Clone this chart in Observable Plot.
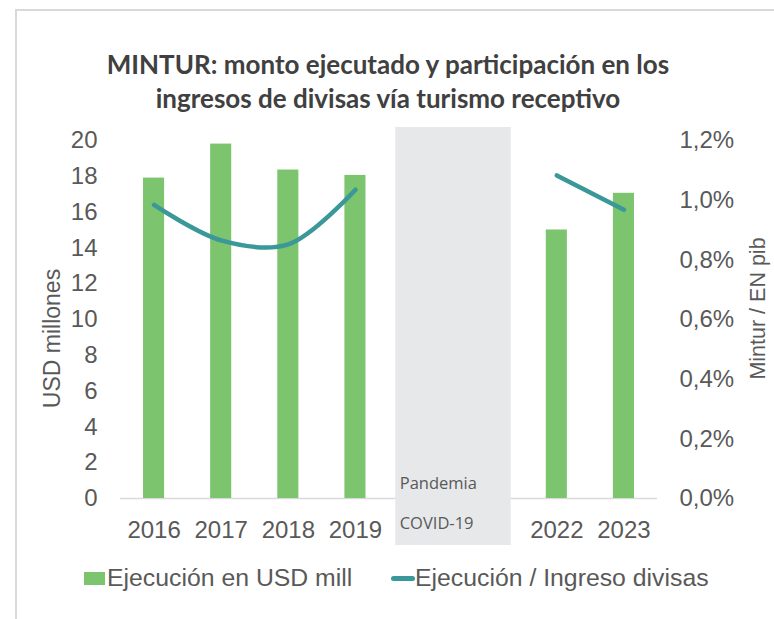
<!DOCTYPE html>
<html>
<head>
<meta charset="utf-8">
<script src="https://cdn.jsdelivr.net/npm/d3@7"></script>
<script src="https://cdn.jsdelivr.net/npm/@observablehq/plot@0.6"></script>
<style>
  html, body { margin: 0; padding: 0; background: #fff; }
  #wrap { position: relative; width: 774px; height: 619px; overflow: hidden; background: #fff; }
  #frame { position: absolute; left: 15px; top: 9px; right: -4px; bottom: -4px;
           border-top: 2px solid #D9D9D9; border-left: 2px solid #D9D9D9; }
  #title { position: absolute; left: 0; top: 47px; width: 776px; text-align: center;
           font-family: Lato, "Open Sans", sans-serif; font-weight: 700; font-size: 26px;
           line-height: 34px; color: #404040; }
  #chart { position: absolute; left: 0; top: 120px; }
  #chart svg { font-family: "Liberation Sans", Arial, sans-serif; }
  #legend { position: absolute; top: 563px; left: 0; width: 774px; height: 30px;
            font-family: "Liberation Sans", Arial, sans-serif; font-size: 24.8px; color: #595959; }
  .item { position: absolute; top: 0; line-height: 30px; white-space: nowrap; }
  .sw { position: absolute; }
</style>
</head>
<body>
<div id="wrap">
  <div id="frame"></div>
  <div id="title">MINTUR: monto ejecutado y participación en los<br>ingresos de divisas vía turismo receptivo</div>
  <div id="chart"></div>
  <div id="legend"></div>
</div>
<script>
// ---- data ----
const years = [2016, 2017, 2018, 2019, 2020, 2021, 2022, 2023];
const spendUSD = [17.9, 19.8, 18.35, 18.05, null, null, 15.0, 17.05];      // USD millones
const sharePct = [0.984, 0.865, 0.852, 1.035, null, null, 1.083, 0.968];   // % (Mintur / EN pib)
const xTickYears = [2016, 2017, 2018, 2019, 2022, 2023];
const leftTicks = [0, 2, 4, 6, 8, 10, 12, 14, 16, 18, 20];
const rightTicks = [0, 0.2, 0.4, 0.6, 0.8, 1.0, 1.2];
const pandemicSpan = [2019.6, 2021.32];
const pandemicLines = ["Pandemia", "COVID-19"];
const seriesNames = ["Ejecución en USD mill", "Ejecución / Ingreso divisas"];
const axisTitles = ["USD millones", "Mintur / EN pib"];

const green = "#7DC46E";
const teal = "#3A9898";
const k = 20 / 1.2; // right-axis % -> left-axis units
const FONT = "Liberation Sans, Arial, sans-serif";

const table = years.map((year, i) => ({year, usd: spendUSD[i], pct: sharePct[i]}));
const barRows = table.filter(d => d.usd != null);
const barHalf = 0.157;
const fmtPct = v => (v / k).toFixed(1).replace(".", ",") + "%";
const pStart = [{x: pandemicSpan[0]}];

const chart = Plot.plot({
  width: 774,
  height: 430,
  marginTop: 20,
  marginBottom: 52,
  marginLeft: 120,
  marginRight: 117,
  x: {domain: [2015.5, 2023.5]},
  y: {domain: [0, 20]},
  style: {background: "transparent", overflow: "visible", color: "#595959"},
  marks: [
    Plot.ruleY([0], {stroke: "#D9D9D9", strokeWidth: 1.5}),
    Plot.rectY(barRows, {x1: d => d.year - barHalf, x2: d => d.year + barHalf, y: "usd", fill: green}),
    Plot.rect([{start: pandemicSpan[0], end: pandemicSpan[1]}], {x1: "start", x2: "end", fill: "#E7E8EA", insetTop: -13, insetBottom: -47}),
    Plot.line(table, {x: "year", y: d => d.pct == null ? NaN : d.pct * k, curve: "catmull-rom", stroke: teal, strokeWidth: 4.5, strokeLinecap: "round", strokeLinejoin: "round"}),
    Plot.text(pStart, {x: "x", frameAnchor: "bottom", text: () => pandemicLines[0], dx: 4, dy: -10, textAnchor: "start", fontFamily: "Open Sans, sans-serif", fontSize: 16.5, fill: "#595959"}),
    Plot.text(pStart, {x: "x", frameAnchor: "bottom", text: () => pandemicLines[1], dx: 4, dy: 30, textAnchor: "start", fontFamily: "Open Sans, sans-serif", fontSize: 16.5, fill: "#595959"}),
    Plot.axisX({ticks: xTickYears, tickSize: 0, tickPadding: 22, tickFormat: d => String(d), label: null, fontSize: 24, fontFamily: FONT, fill: "#595959"}),
    Plot.axisY({ticks: leftTicks, tickSize: 0, tickPadding: 23, label: null, fontSize: 24, fontFamily: FONT, fill: "#595959"}),
    Plot.axisY({anchor: "right", ticks: rightTicks.map(p => p * k), tickFormat: fmtPct, tickSize: 0, tickPadding: 22, label: null, fontSize: 24, fontFamily: FONT, fill: "#595959"}),
    Plot.text([axisTitles[0]], {frameAnchor: "left", textAnchor: "middle", text: d => d, rotate: -90, dx: -68, dy: 19, fill: "#595959", fontSize: 23, fontFamily: FONT}),
    Plot.text([axisTitles[1]], {frameAnchor: "right", textAnchor: "middle", text: d => d, rotate: -90, dx: 101, dy: -11, fill: "#595959", fontSize: 21.5, fontFamily: FONT})
  ]
});
document.getElementById("chart").appendChild(chart);

// legend
const legend = document.getElementById("legend");
legend.innerHTML = `
  <div class="item" style="left:84px;">
    <span class="sw" style="left:0;top:9px;width:21px;height:13px;background:${green}"></span>
    <span style="position:absolute;left:23px;top:0">${seriesNames[0]}</span>
  </div>
  <div class="item" style="left:391px;">
    <span class="sw" style="left:0;top:13px;width:24px;height:5px;border-radius:3px;background:${teal}"></span>
    <span style="position:absolute;left:24px;top:0">${seriesNames[1]}</span>
  </div>`;
</script>
</body>
</html>
